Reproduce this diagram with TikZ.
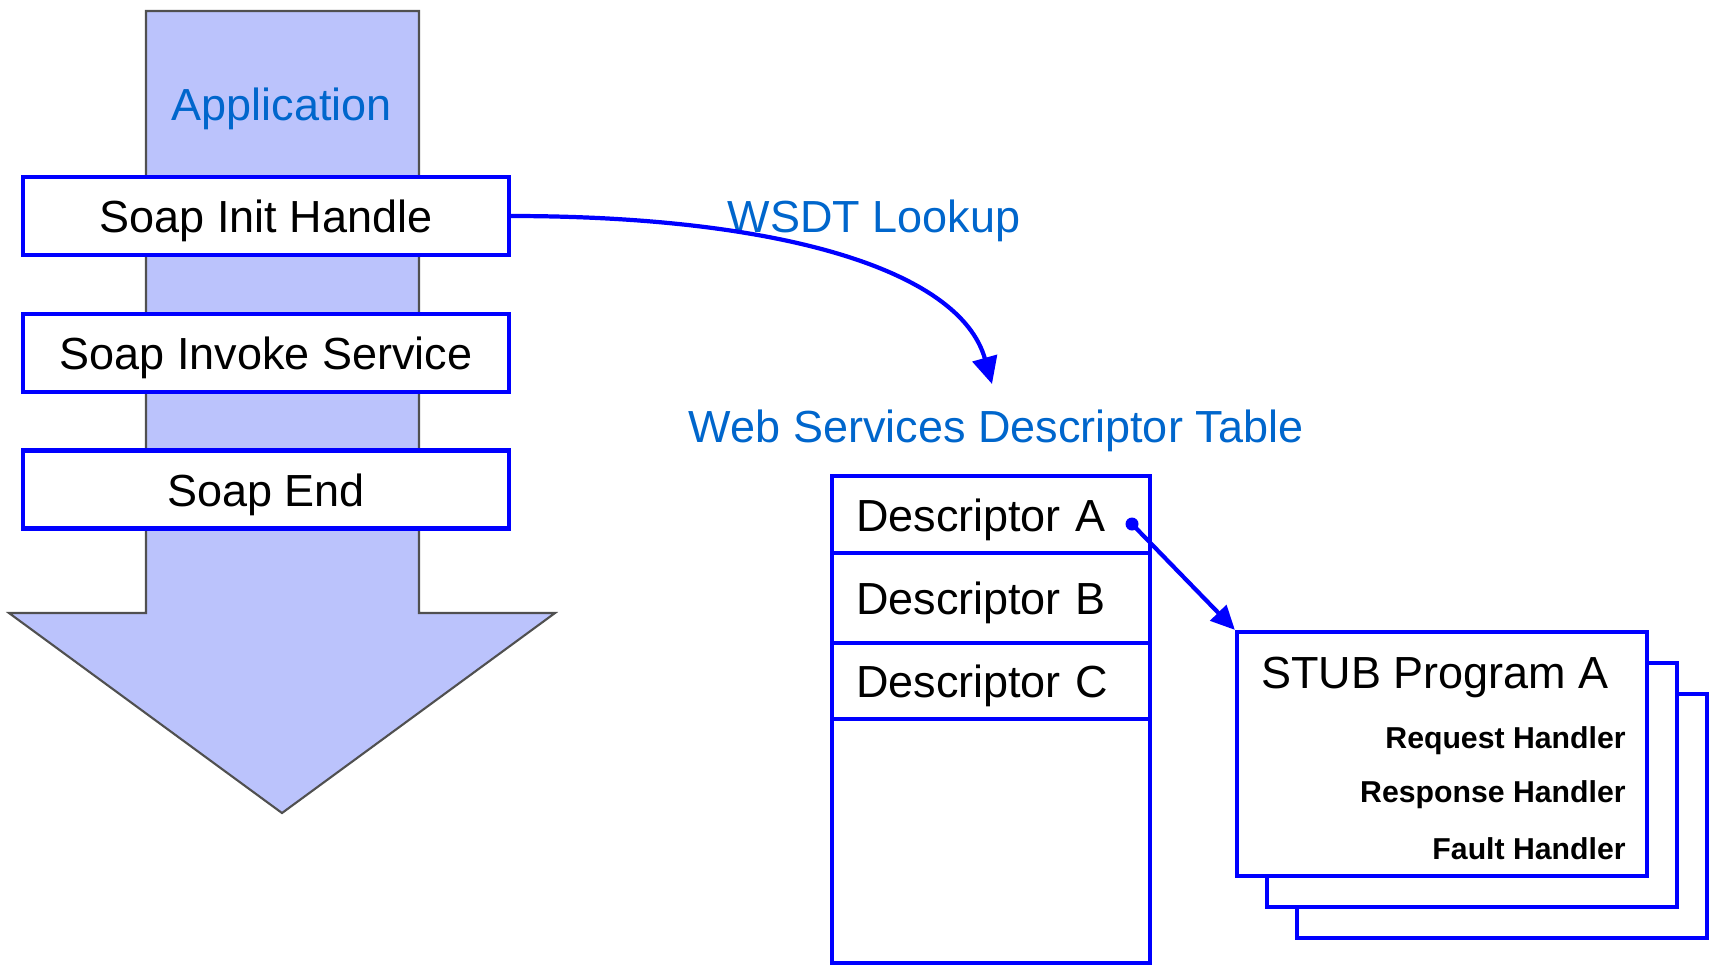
\documentclass[tikz,border=0pt]{standalone}
\usepackage{fontspec}
\setmainfont{Liberation Sans}
\usetikzlibrary{arrows.meta}
\definecolor{appfill}{RGB}{187,195,252}
\definecolor{labelblue}{RGB}{0,102,204}
\definecolor{edgegray}{RGB}{80,80,80}
\newcommand{\bigfont}{\fontsize{12.8}{15}\selectfont}
\newcommand{\smallbold}{\fontsize{8.6}{10}\selectfont\bfseries}
\begin{document}
\begin{tikzpicture}[thick,
    soap node/.style={draw=blue,line width=1.2pt,fill=white,minimum width=4.86cm,minimum height=0.78cm,inner sep=0pt,text height=0.33cm,text depth=0cm,font=\bigfont},
    desc node/.style={draw=blue,line width=1.2pt,fill=white,text width=2.70cm,inner xsep=0.24cm,inner ysep=0pt,align=left,text height=0.33cm,text depth=0cm,font=\bigfont},
    stub node/.style={draw=blue,line width=1.2pt,fill=white,minimum width=4.10cm,minimum height=2.44cm,inner sep=0pt},
    blue label/.style={text=labelblue,font=\bigfont,inner sep=0pt,text height=0.33cm,text depth=0cm},
    handler/.style={anchor=east,font=\smallbold,inner sep=0pt},
    link/.style={draw=blue,line width=1.2pt}
  ]
  \useasboundingbox (0,0) rectangle (17.09,-9.66);

  % application arrow
  \draw[edgegray,line width=0.6pt,fill=appfill] (1.46,-0.11) -- (4.19,-0.11) -- (4.19,-6.13) -- (5.55,-6.13)
    -- (2.82,-8.13) -- (0.09,-6.13) -- (1.46,-6.13) -- cycle;
  \node[blue label] (app) at (2.82,-1.04) {Application};

  \node[soap node] (init) at (2.66,-2.16) {Soap Init Handle};
  \node[soap node] (invoke) at (2.66,-3.53) {Soap Invoke Service};
  \node[soap node] (end) at (2.66,-4.895) {Soap End};

  % descriptor table
  \node[blue label] (lookuptxt) at (8.74,-2.16) {WSDT Lookup};
  \node[blue label] (wsdt) at (9.96,-4.26) {Web Services Descriptor Table};
  \node[desc node,minimum height=0.77cm] (descA) at (9.91,-5.145) {Descriptor A};
  \node[desc node,minimum height=0.90cm] (descB) at (9.91,-5.98) {Descriptor B};
  \node[desc node,minimum height=0.76cm] (descC) at (9.91,-6.81) {Descriptor C};
  \node[desc node,minimum height=2.44cm] (descD) at (9.91,-8.41) {};

  % stub programs
  \node[stub node] (stub3) at (15.02,-8.16) {};
  \node[stub node] (stub2) at (14.72,-7.85) {};
  \node[stub node] (stub1) at (14.42,-7.54) {};
  \node[anchor=west,inner sep=0pt,font=\bigfont] (stubname) at (12.60,-6.77) {STUB Program A};
  \node[handler] (req) at (16.27,-7.41) {Request Handler};
  \node[handler] (resp) at (16.27,-7.95) {Response Handler};
  \node[handler] (fault) at (16.27,-8.49) {Fault Handler};

  \coordinate (lookup) at (9.92,-3.84);
  \coordinate (ptr) at (11.32,-5.24);

  \draw[link,-{Triangle[length=0.27cm,width=0.25cm]}]
   (init.east) .. controls (7.8,-2.16) and (9.6,-2.7) .. (lookup);
  \fill[blue] (ptr) circle (0.065);
  \draw[link,-{Triangle[length=0.24cm,width=0.22cm]}] (ptr) -- (stub1.north west);
\end{tikzpicture}
\end{document}
